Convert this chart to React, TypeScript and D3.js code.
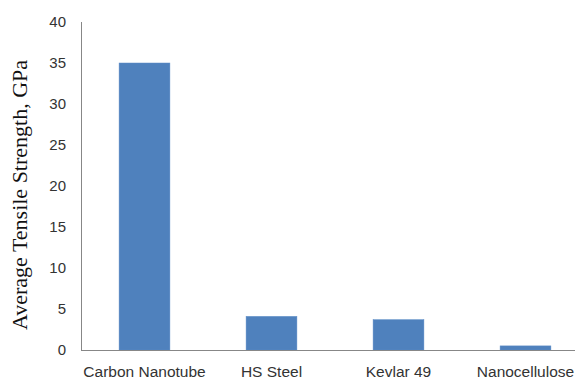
import React from "react";
import * as d3 from "d3";

const categories = ["Carbon Nanotube", "HS Steel", "Kevlar 49", "Nanocellulose"];
const values = [35, 4.1, 3.7, 0.5];
const yTicks = [0, 5, 10, 15, 20, 25, 30, 35, 40];

export default function App() {
  const W = 575, H = 381;
  const x0 = 81, x1 = 589, yTop = 22, yBot = 350;
  const x = d3.scaleBand<string>().domain(categories).range([x0, x1]).paddingInner(0.6).paddingOuter(0.3);
  const y = d3.scaleLinear().domain([0, 40]).range([yBot, yTop]);
  const tickFont = "'Liberation Sans', Arial, sans-serif";
  return (
    <svg width={W} height={H} style={{ position: "absolute", left: 0, top: 0, background: "#fff" }}>
      {categories.map((c, i) => (
        <rect key={c} x={x(c)} y={y(values[i])} width={x.bandwidth()} height={yBot - y(values[i])}
          fill="#4F81BD" stroke="#5B8BC6" strokeWidth={0.5} />
      ))}
      <line x1={x0 + 0.5} x2={x0 + 0.5} y1={yTop} y2={yBot} stroke="#878787" strokeWidth={1} />
      <line x1={x0} x2={x1} y1={yBot + 0.5} y2={yBot + 0.5} stroke="#878787" strokeWidth={1} />
      {yTicks.map((t) => (
        <text key={t} x={66} y={y(t)} dy="0.35em" textAnchor="end" fontFamily={tickFont} fontSize={15} fill="#333">{t}</text>
      ))}
      {categories.map((c) => (
        <text key={c} x={(x(c) as number) + x.bandwidth() / 2} y={377} textAnchor="middle" fontFamily={tickFont} fontSize={15.5} fill="#333">{c}</text>
      ))}
      <text transform={`translate(27, 195) rotate(-90)`} textAnchor="middle"
        fontFamily="'Liberation Serif', 'Times New Roman', serif" fontSize={22} fill="#111">Average Tensile Strength, GPa</text>
    </svg>
  );
}
